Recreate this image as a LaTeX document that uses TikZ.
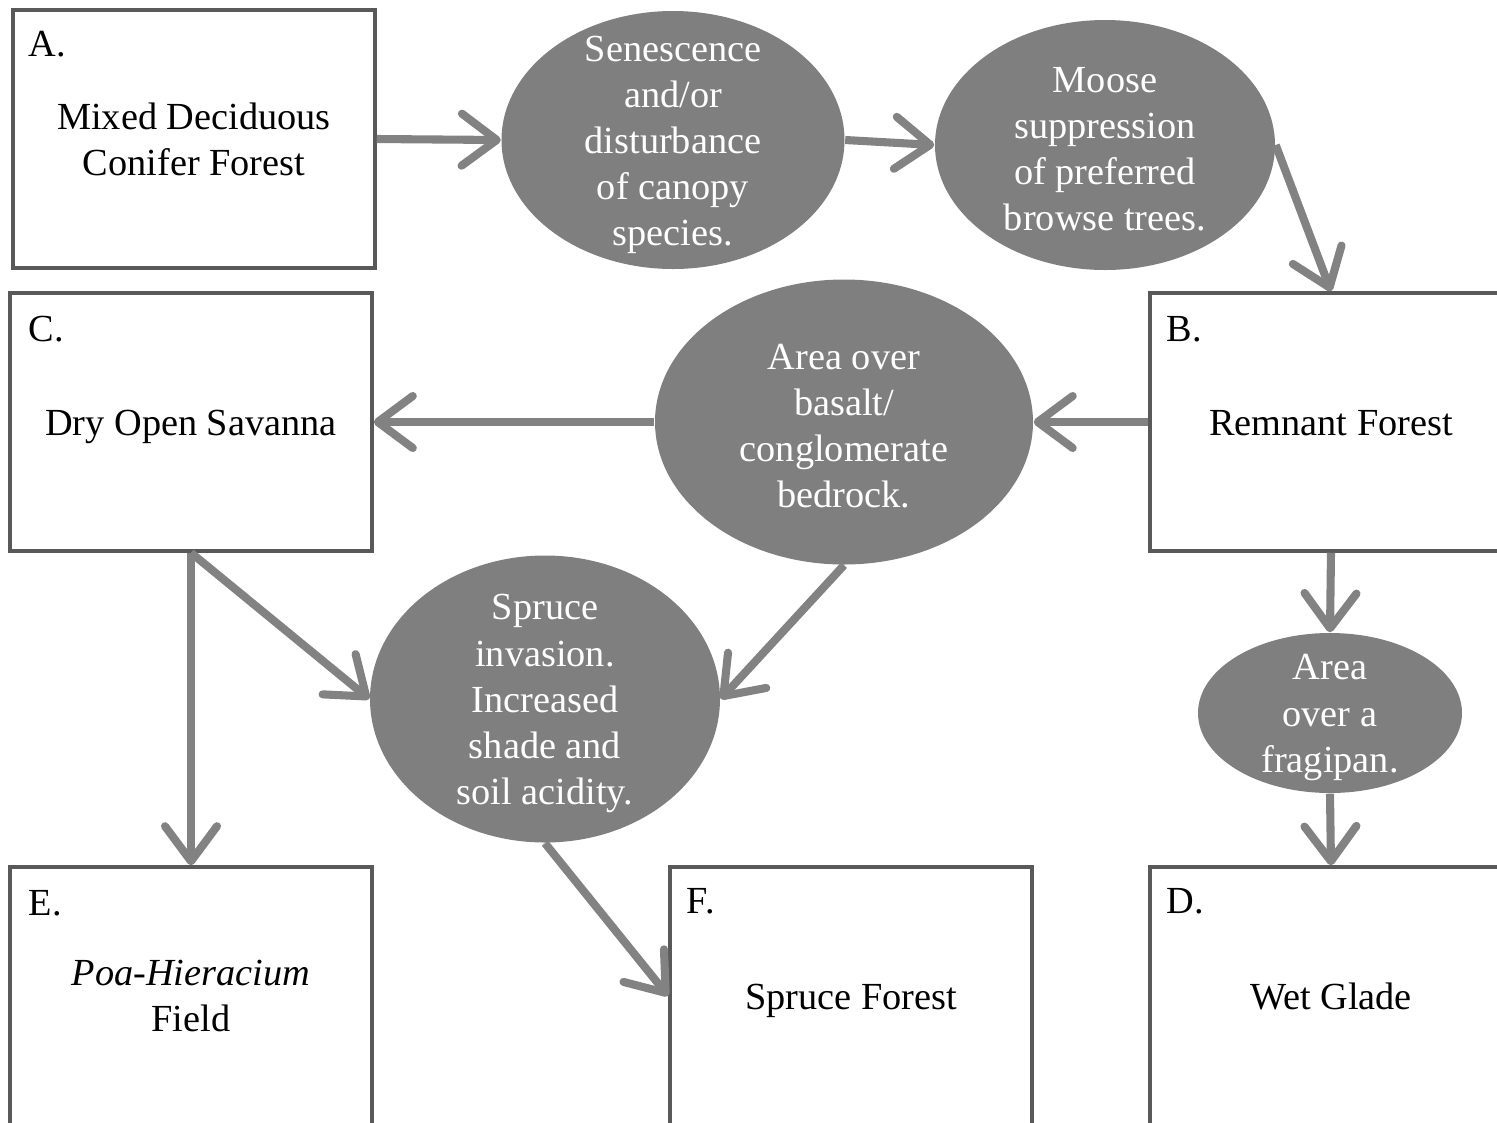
\documentclass[tikz,border=0pt]{standalone}
\usepackage{fontspec}
\setmainfont{Liberation Serif}
\usepackage{xcolor}
\usepackage{tikz}
\usetikzlibrary{positioning}
\usetikzlibrary{arrows.meta}
\usetikzlibrary{shapes}

\definecolor{boxgray}{RGB}{89,89,89}
\definecolor{ellgray}{RGB}{127,127,127}
\definecolor{arrgray}{RGB}{130,130,130}
\newcommand{\diagfont}{\fontsize{10.9}{13.1}\selectfont}

\begin{document}
\begin{tikzpicture}[
                	    box/.style = { draw = boxgray, line width = 1pt, minimum width = 3.62cm, minimum height = 2.58cm, inner sep=0pt, align = center, font = \diagfont },
                	    oneline/.style = { text height = 0.75em, text depth = 0pt },
                		cause/.style = { ellipse, fill = ellgray, draw = none, inner sep=0pt },
                		causetext/.style = { text = white, align = center, inner sep=0pt, font = \diagfont, yshift = -0.045cm },
                		tag/.style = { anchor = north west, inner sep=0pt, font = \diagfont },
                		flow/.style = { draw = arrgray, line width = 2.3pt, -{Straight Barb[length=3.5mm, width=5.2mm, line width=2.3pt, round]} },
            		] 
            		    \useasboundingbox (0,0) rectangle (14.97,-11.22);
            		    \clip (0,0) rectangle (14.97,-11.22);
            		    % states
            		    \node[box] (Mixed) at (1.94,-1.39) {Mixed Deciduous\\Conifer Forest};
            		    \node[box, oneline] (Savanna) at (1.91,-4.22) {Dry Open Savanna};
            		    \node[box, oneline] (Remnant) at (13.31,-4.22) {Remnant Forest};
            		    \node[box] (Poa) at (1.91,-9.96) {\textit{Poa-Hieracium}\\Field};
            		    \node[box, oneline] (Forest) at (8.51,-9.96) {Spruce Forest};
            		    \node[box, oneline] (Glade) at (13.31,-9.96) {Wet Glade};
            		    \node[tag] (MixedTag) at ([shift={(0.17,-0.22)}]Mixed.north west) {A.};
            		    \node[tag] (SavannaTag) at ([shift={(0.20,-0.24)}]Savanna.north west) {C.};
            		    \node[tag] (RemnantTag) at ([shift={(0.18,-0.24)}]Remnant.north west) {B.};
            		    \node[tag] (PoaTag) at ([shift={(0.20,-0.24)}]Poa.north west) {E.};
            		    \node[tag] (ForestTag) at ([shift={(0.18,-0.22)}]Forest.north west) {F.};
            		    \node[tag] (GladeTag) at ([shift={(0.18,-0.22)}]Glade.north west) {D.};
            		    % causes
            		    \node[cause, minimum width = 3.43cm, minimum height = 2.58cm] (Senesc) at (6.73,-1.40) {};
            		    \node[cause, minimum width = 3.40cm, minimum height = 2.50cm] (Moose) at (11.05,-1.45) {};
            		    \node[cause, minimum width = 3.78cm, minimum height = 2.85cm] (Basalt) at (8.44,-4.22) {};
            		    \node[cause, minimum width = 3.50cm, minimum height = 2.87cm] (Spruce) at (5.45,-6.99) {};
            		    \node[cause, minimum width = 2.64cm, minimum height = 1.60cm] (Fragipan) at (13.30,-7.13) {};
            		    \node[causetext] (SenescText) at (Senesc) {Senescence\\and/or\\disturbance\\of canopy\\species.};
            		    \node[causetext] (MooseText) at (Moose) {Moose\\suppression\\of preferred\\browse trees.};
            		    \node[causetext] (BasaltText) at (Basalt) {Area over\\basalt/\\conglomerate\\bedrock.};
            		    \node[causetext] (SpruceText) at (Spruce) {Spruce\\invasion.\\Increased\\shade and\\soil acidity.};
            		    \node[causetext] (FragipanText) at (Fragipan) {Area\\over a\\fragipan.};
            		    % transitions
            		    \draw[flow] (Mixed.east) -- (Senesc.west);
            		    \draw[flow] (Senesc.east) -- (Moose.west);
            		    \draw[flow] (Moose.east) -- (Remnant.north);
            		    \draw[flow] (Remnant.west) -- (Basalt.east);
            		    \draw[flow] (Basalt.west) -- (Savanna.east);
            		    \draw[flow] (Basalt.south) -- (Spruce.east);
            		    \draw[flow] (Savanna.south) -- (Spruce.west);
            		    \draw[flow] (Savanna.south) -- (Poa.north);
            		    \draw[flow] (Spruce.south) -- (Forest.west);
            		    \draw[flow] (Remnant.south) -- (Fragipan.north);
            		    \draw[flow] (Fragipan.south) -- (Glade.north);
            		\end{tikzpicture}
\end{document}
